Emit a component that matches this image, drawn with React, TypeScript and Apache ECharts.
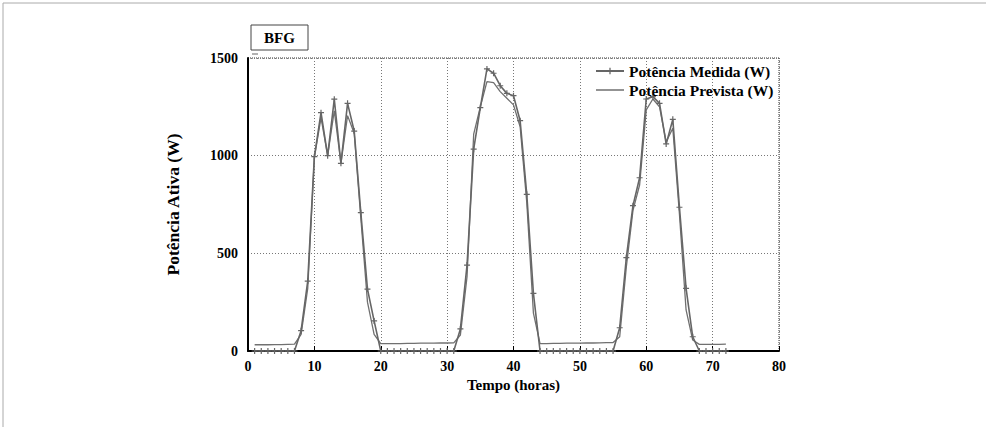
import React, { useEffect, useRef } from "react";
import * as echarts from "echarts";

const hours = Array.from({ length: 72 }, (_, i) => i + 1);

const medida = [
  0, 0, 0, 0, 0, 0, 0, 104, 358, 995,
  1220, 1000, 1289, 961, 1268, 1126, 708, 317, 154, 0,
  0, 0, 0, 0, 0, 0, 0, 0, 0, 0,
  0, 113, 440, 1033, 1246, 1444, 1422, 1358, 1319, 1307,
  1179, 802, 295, 0, 0, 0, 0, 0, 0, 0,
  0, 0, 0, 0, 0, 119, 478, 744, 887, 1290,
  1302, 1268, 1060, 1186, 736, 321, 73, 0, 0, 0,
  0, 0,
];

const prevista = [
  32, 32, 32, 33, 33, 34, 35, 85, 320, 990,
  1195, 1000, 1230, 960, 1205, 1115, 680, 250, 85, 38,
  38, 38, 38, 39, 39, 40, 40, 40, 41, 41,
  42, 82, 380, 1110, 1250, 1379, 1374, 1328, 1294, 1260,
  1148, 760, 194, 38, 38, 39, 39, 40, 40, 40,
  41, 41, 42, 43, 43, 73, 430, 720, 850, 1234,
  1290, 1250, 1070, 1140, 700, 210, 56, 34, 34, 34,
  34, 35,
];

const xTicks = [0, 10, 20, 30, 40, 50, 60, 70, 80];
const yTicks = [0, 500, 1000, 1500];

const FONT = "Liberation Serif";
const LINE = "#666666";
const PLUS = "path://M2,0H3V2H5V3H3V5H2V3H0V2H2Z";
const LINE_ICON = "path://M0,0L0.01,0M0,3.3H28V4.7H0ZM28,8L27.99,8";

export default function App() {
  const ref = useRef<HTMLDivElement>(null);
  useEffect(() => {
    document.body.style.margin = "0";
    const chart = echarts.init(ref.current!, null, { renderer: "svg" });
    chart.setOption({
      animation: false,
      backgroundColor: "#ffffff",
      textStyle: { fontFamily: FONT },
      grid: { left: 248, right: 207, top: 58, bottom: 76, containLabel: false },
      legend: {
        orient: "vertical",
        left: 590,
        top: 58,
        itemWidth: 28,
        itemHeight: 8,
        itemGap: 3,
        textStyle: { fontFamily: FONT, fontWeight: "bold", fontSize: 15.5, color: "#000" },
        data: [
          { name: "Potência Medida (W)" },
          { name: "Potência Prevista (W)", icon: LINE_ICON },
        ],
      },
      xAxis: {
        type: "value",
        min: xTicks[0],
        max: xTicks[xTicks.length - 1],
        interval: 10,
        name: "Tempo (horas)",
        nameLocation: "middle",
        nameGap: 23,
        nameTextStyle: { fontFamily: FONT, fontWeight: "bold", fontSize: 15, color: "#000" },
        axisLine: { show: true, onZero: false, lineStyle: { color: "#000", width: 2 } },
        axisTick: { show: true, inside: true, length: 5, lineStyle: { color: "#000" } },
        axisLabel: { fontFamily: FONT, fontWeight: "bold", fontSize: 14, color: "#000", margin: 8, formatter: (v: number) => String(v) },
        splitLine: { show: true, lineStyle: { color: "#777", type: [1, 2], width: 1 } },
      },
      yAxis: {
        type: "value",
        min: yTicks[0],
        max: yTicks[yTicks.length - 1],
        interval: 500,
        name: "Potência Ativa (W)",
        nameLocation: "middle",
        nameGap: 66,
        nameTextStyle: { fontFamily: FONT, fontWeight: "bold", fontSize: 17.5, color: "#000" },
        axisLine: { show: true, lineStyle: { color: "#000", width: 2 } },
        axisTick: { show: false },
        axisLabel: { fontFamily: FONT, fontWeight: "bold", fontSize: 14, color: "#000", margin: 10, formatter: (v: number) => String(v) },
        splitLine: { show: true, lineStyle: { color: "#777", type: [1, 2], width: 1 } },
      },
      graphic: [
        { type: "line", shape: { x1: 3, y1: 3, x2: 986, y2: 3 }, style: { stroke: "#aaa", lineWidth: 1 } },
        { type: "line", shape: { x1: 3, y1: 3, x2: 3, y2: 427 }, style: { stroke: "#aaa", lineWidth: 1 } },
        { type: "line", shape: { x1: 248, y1: 58, x2: 779, y2: 58 }, style: { stroke: "#333", lineWidth: 1, lineDash: [1, 1] } },
        { type: "line", shape: { x1: 779, y1: 58, x2: 779, y2: 351 }, style: { stroke: "#333", lineWidth: 1, lineDash: [1, 1] } },
        { type: "rect", shape: { x: 251, y: 25, width: 57, height: 25 }, style: { fill: "#fff", stroke: "#444", lineWidth: 1 } },
        {
          type: "text",
          x: 279.5,
          y: 38,
          style: { text: "BFG", fontFamily: FONT, fontWeight: "bold", fontSize: 15, fill: "#000", align: "center", verticalAlign: "middle" },
        },
        { type: "line", shape: { x1: 252, y1: 54, x2: 258, y2: 54 }, style: { stroke: "#999", lineWidth: 1.5 } },
      ],
      series: [
        {
          name: "Potência Medida (W)",
          type: "line",
          data: hours.map((h, i) => [h, medida[i]]),
          symbol: PLUS,
          symbolSize: 6,
          showSymbol: true,
          lineStyle: { color: LINE, width: 1.6 },
          itemStyle: { color: LINE },
          z: 3,
        },
        {
          name: "Potência Prevista (W)",
          type: "line",
          data: hours.map((h, i) => [h, prevista[i]]),
          symbol: "none",
          lineStyle: { color: "#707070", width: 1.3 },
          itemStyle: { color: "#707070" },
          z: 2,
        },
      ],
    });
    return () => chart.dispose();
  }, []);
  return <div ref={ref} style={{ width: 986, height: 427 }} />;
}
